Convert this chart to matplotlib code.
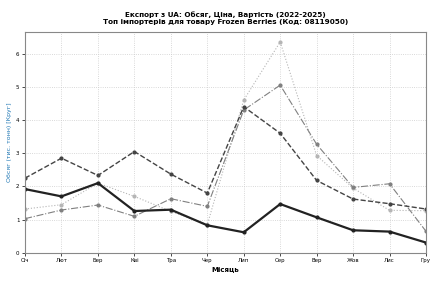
import numpy as np
import matplotlib.pyplot as plt

months = ['Січ', 'Лют', 'Бер', 'Кві', 'Тра', 'Чер', 'Лип', 'Сер', 'Вер', 'Жов', 'Лис', 'Гру']

# обсяг, тис. тонн
s1 = [1.92, 1.70, 2.10, 1.26, 1.30, 0.83, 0.62, 1.47, 1.07, 0.68, 0.64, 0.31]
s2 = [2.25, 2.85, 2.33, 3.05, 2.37, 1.80, 4.40, 3.60, 2.18, 1.62, 1.48, 1.32]
s3 = [1.03, 1.29, 1.44, 1.10, 1.63, 1.40, 4.30, 5.05, 3.27, 1.97, 2.08, 0.65]
s4 = [1.32, 1.45, 2.10, 1.70, 1.25, 0.85, 4.60, 6.35, 2.93, 1.95, 1.28, 1.27]

x = np.arange(len(months))

fig = plt.figure(figsize=(4.47, 2.88), dpi=100)
ax = fig.add_axes([0.056, 0.122, 0.897, 0.767])

ax.plot(x, s4, ':', color='#b5b5b5', lw=0.8, marker='o', ms=2)
ax.plot(x, s3, '-.', color='#808080', lw=0.8, marker='o', ms=2)
ax.plot(x, s2, '--', color='#444444', lw=1.0, marker='o', ms=2)
ax.plot(x, s1, '-', color='#222222', lw=1.6, marker='o', ms=2)

ax.set_xlim(0, 11)
ax.set_ylim(0, 6.65)
ax.set_xticks(x)
ax.set_xticklabels(months)
ax.set_yticks(range(0, 7))
ax.tick_params(labelsize=4, length=2, width=0.5, pad=2)
ax.grid(True, linestyle=':', color='#cccccc', lw=0.6)
for sp in ax.spines.values():
    sp.set_color('#888888')

ax.set_xlabel('Місяць', fontsize=5, fontweight='bold', labelpad=2)
ax.set_ylabel('Обсяг (тис. тонн) [Круг]', fontsize=4.5, color='#1f77b4', labelpad=3)
ax.set_title('Експорт з UA: Обсяг, Ціна, Вартість (2022-2025)\nТоп імпортерів для товару Frozen Berries (Код: 08119050)',
             fontsize=5.2, fontweight='bold', pad=6)

fig.savefig('out.png', dpi=100)
